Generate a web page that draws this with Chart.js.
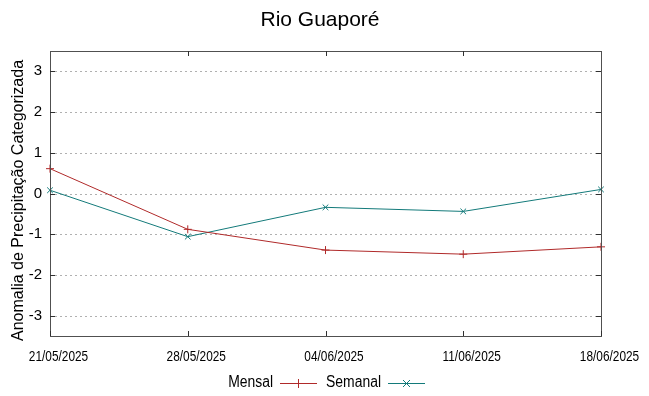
<!DOCTYPE html>
<html><head><meta charset="utf-8">
<script src="https://cdn.jsdelivr.net/npm/chart.js@4/dist/chart.umd.min.js"></script>
<style>html,body{margin:0;padding:0;background:#fff}canvas{display:block}</style>
</head><body>
<canvas id="c" width="649" height="396"></canvas>
<script>
const categories = ['21/05/2025','28/05/2025','04/06/2025','11/06/2025','18/06/2025'];
const mensal = [0.61, -0.88, -1.39, -1.49, -1.31];
const semanal = [0.08, -1.06, -0.34, -0.44, 0.10];
const yTicks = [-3,-2,-1,0,1,2,3];
const titleText = 'Rio Guaporé';
const yTitle = 'Anomalia de Precipitação Categorizada';
const FONT = '"Liberation Sans", Arial, sans-serif';
const RED = '#b02a2a', TEAL = '#137a7a';

function narrowText(ctx, text, x, y, align, sx) {
  ctx.save();
  ctx.translate(x, y); ctx.scale(sx, 1);
  ctx.textAlign = align; ctx.fillText(text, 0, 0);
  ctx.restore();
}

const deco = {
  id: 'deco',
  beforeDatasetsDraw(chart) {
    const {ctx, chartArea: a, scales: {y}} = chart;
    ctx.save();
    ctx.strokeStyle = '#b0b0b0'; ctx.lineWidth = 1; ctx.setLineDash([2, 3]);
    yTicks.forEach(v => { const py = Math.round(y.getPixelForValue(v)) + 0.5;
      ctx.beginPath(); ctx.moveTo(a.left, py); ctx.lineTo(a.right, py); ctx.stroke(); });
    ctx.restore();
  },
  afterDraw(chart) {
    const {ctx, chartArea: a, scales: {x, y}} = chart;
    ctx.save();
    ctx.strokeStyle = '#505050'; ctx.lineWidth = 1;
    ctx.strokeRect(Math.round(a.left) + 0.5, Math.round(a.top) + 0.5, Math.round(a.right - a.left), Math.round(a.bottom - a.top));
    ctx.strokeStyle = '#303030';
    yTicks.forEach(v => { const py = Math.round(y.getPixelForValue(v)) + 0.5;
      ctx.beginPath(); ctx.moveTo(a.left, py); ctx.lineTo(a.left + 5, py);
      ctx.moveTo(a.right, py); ctx.lineTo(a.right - 5, py); ctx.stroke(); });
    categories.forEach((c, i) => { const px = Math.round(x.getPixelForValue(i)) + 0.5;
      ctx.beginPath(); ctx.moveTo(px, a.bottom); ctx.lineTo(px, a.bottom - 5);
      if (i > 0 && i < categories.length - 1) { ctx.moveTo(px, a.top); ctx.lineTo(px, a.top + 5); }
      ctx.stroke(); });
    ctx.fillStyle = '#000'; ctx.textBaseline = 'middle';
    // x tick labels
    ctx.font = '15px ' + FONT;
    categories.forEach((c, i) => narrowText(ctx, c, x.getPixelForValue(i) + 8.5, 356.5, 'center', 0.79));
    // title
    ctx.textAlign = 'center';
    ctx.font = '21px ' + FONT; ctx.fillText(titleText, 320, 20);
    // y title
    ctx.save(); ctx.translate(18.5, 200.5); ctx.rotate(-Math.PI / 2);
    ctx.font = '16px ' + FONT; ctx.fillText(yTitle, 0, 0); ctx.restore();
    // legend
    const ly = 383;
    ctx.font = '16px ' + FONT;
    const items = [{t: 'Mensal', c: RED, tx: 273, lx: 280, m: 'plus'}, {t: 'Semanal', c: TEAL, tx: 381, lx: 388, m: 'x'}];
    items.forEach(it => {
      ctx.fillStyle = '#000'; narrowText(ctx, it.t, it.tx, ly, 'right', 0.87);
      ctx.strokeStyle = it.c; ctx.lineWidth = 1;
      ctx.beginPath(); ctx.moveTo(it.lx, ly + 0.5); ctx.lineTo(it.lx + 37, ly + 0.5); ctx.stroke();
      const mx = Math.round(it.lx + 18);
      ctx.beginPath();
      if (it.m === 'plus') { ctx.moveTo(mx + 0.5, ly - 4); ctx.lineTo(mx + 0.5, ly + 5); }
      else { ctx.moveTo(mx - 3, ly - 3); ctx.lineTo(mx + 4, ly + 4); ctx.moveTo(mx + 4, ly - 3); ctx.lineTo(mx - 3, ly + 4); }
      ctx.stroke();
    });
    ctx.restore();
  }
};

new Chart(document.getElementById('c'), {
  type: 'line',
  data: {
    labels: categories,
    datasets: [
      {label: 'Mensal', data: mensal, borderColor: RED, backgroundColor: RED, borderWidth: 1,
       pointStyle: 'cross', pointRadius: 4, pointBorderWidth: 1, tension: 0},
      {label: 'Semanal', data: semanal, borderColor: TEAL, backgroundColor: TEAL, borderWidth: 1,
       pointStyle: 'crossRot', pointRadius: 4, pointBorderWidth: 1, tension: 0}
    ]
  },
  options: {
    responsive: false, animation: false, devicePixelRatio: 1,
    layout: {padding: {top: 51, right: 48, left: 0, bottom: 0}},
    plugins: {legend: {display: false}, tooltip: {enabled: false}, title: {display: false}},
    scales: {
      x: {
        offset: false,
        grid: {display: false, drawTicks: false},
        border: {display: false},
        ticks: {display: false},
        afterFit(s) { s.height = 60; }
      },
      y: {
        min: -3.5, max: 3.5,
        grid: {display: false, drawTicks: false},
        border: {display: false},
        ticks: {font: {family: FONT, size: 15}, color: '#000', padding: 8},
        afterBuildTicks(s) { s.ticks = yTicks.map(v => ({value: v})); },
        afterFit(s) { s.width = 50; }
      }
    }
  },
  plugins: [deco]
});
</script>
</body></html>
